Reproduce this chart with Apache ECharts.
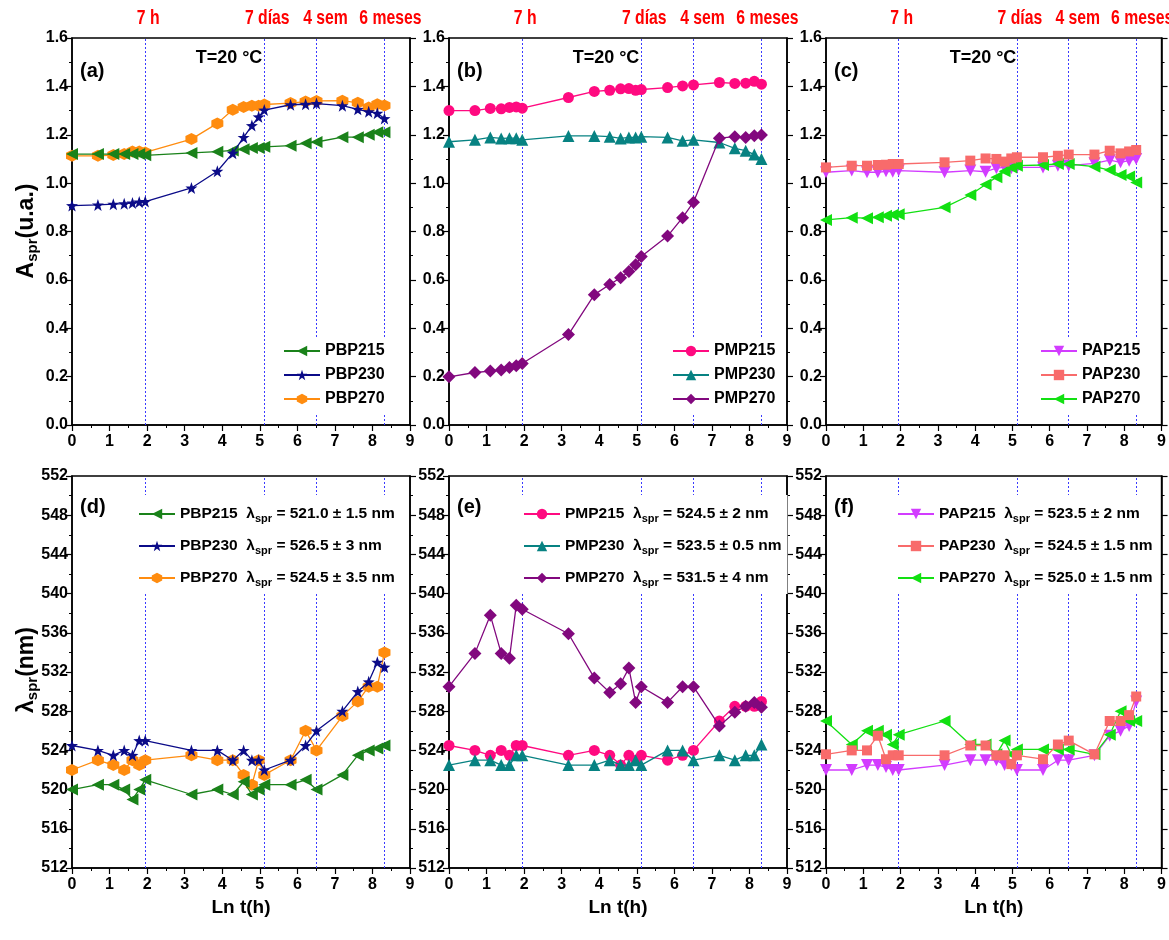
<!DOCTYPE html>
<html><head><meta charset="utf-8">
<script src="https://cdn.jsdelivr.net/npm/echarts@6/dist/echarts.min.js"></script>
<style>html,body{margin:0;padding:0;background:#fff}#c{width:1169px;height:940px}</style>
</head><body><div id="c"></div><script>
// ---- data ----
const LN_T = [0,0.69,1.10,1.39,1.61,1.79,1.95,3.18,3.87,4.28,4.57,4.79,4.97,5.12,5.82,6.22,6.51,7.20,7.61,7.90,8.13,8.32];
const MARK_X = [1.95,5.12,6.51,8.32];
const MARK_LABELS = ['7 h','7 días','4 sem','6 meses'];
const X_TICKS = [0,1,2,3,4,5,6,7,8,9];

// absorbance A_spr (u.a.)
const A_PBP215 = [1.12,1.12,1.12,1.12,1.12,1.12,1.115,1.125,1.13,1.135,1.14,1.145,1.145,1.15,1.155,1.165,1.17,1.19,1.19,1.20,1.21,1.21];
const A_PBP230 = [0.907,0.91,0.913,0.915,0.918,0.922,0.924,0.98,1.049,1.124,1.189,1.238,1.274,1.302,1.324,1.326,1.329,1.32,1.305,1.295,1.289,1.267];
const A_PBP270 = [1.113,1.113,1.116,1.12,1.131,1.131,1.127,1.182,1.247,1.303,1.315,1.32,1.32,1.325,1.331,1.337,1.34,1.341,1.332,1.313,1.326,1.321];
const A_PMP215 = [1.30,1.30,1.309,1.307,1.313,1.315,1.31,1.354,1.379,1.384,1.39,1.391,1.384,1.387,1.395,1.402,1.406,1.416,1.412,1.413,1.421,1.409];
const A_PMP230 = [1.171,1.179,1.189,1.185,1.186,1.186,1.179,1.195,1.195,1.192,1.185,1.189,1.189,1.192,1.189,1.175,1.179,1.168,1.144,1.134,1.118,1.10];
const A_PMP270 = [0.199,0.217,0.223,0.227,0.238,0.245,0.254,0.374,0.539,0.581,0.609,0.635,0.663,0.697,0.781,0.857,0.921,1.186,1.192,1.189,1.196,1.199];
const A_PAP215 = [1.045,1.052,1.045,1.045,1.049,1.047,1.052,1.045,1.052,1.047,1.062,1.065,1.061,1.065,1.065,1.072,1.072,1.082,1.095,1.086,1.093,1.10];
const A_PAP230 = [1.065,1.072,1.072,1.075,1.076,1.079,1.079,1.086,1.093,1.102,1.10,1.089,1.102,1.107,1.107,1.113,1.118,1.118,1.134,1.123,1.131,1.137];
const A_PAP270 = [0.848,0.857,0.855,0.859,0.865,0.869,0.871,0.90,0.951,0.994,1.024,1.049,1.065,1.072,1.075,1.079,1.079,1.068,1.054,1.034,1.027,1.003];

// wavelength lambda_spr (nm)
const L_PBP215 = [520.0,520.5,520.5,520.0,519.0,520.0,521.0,519.5,520.0,519.5,520.8,519.5,520.0,520.5,520.5,521.0,520.0,521.5,523.5,524.0,524.2,524.5];
const L_PBP230 = [524.5,524.0,523.5,524.0,523.5,525.0,525.0,524.0,524.0,523.0,524.0,523.0,523.0,522.0,523.0,524.5,526.0,528.0,530.0,531.0,533.0,532.5];
const L_PBP270 = [522.0,523.0,522.5,522.0,523.0,522.5,523.0,523.5,523.0,523.0,521.5,520.5,523.0,521.5,523.0,526.0,524.0,527.5,529.0,530.5,530.5,534.0];
const L_PMP215 = [524.5,524.0,523.5,524.0,523.5,524.5,524.5,523.5,524.0,523.5,522.5,523.5,523.0,523.5,523.0,523.5,524.0,527.0,528.5,528.5,528.5,529.0];
const L_PMP230 = [522.5,523.0,523.0,522.5,522.5,523.5,523.5,522.5,522.5,523.0,522.5,522.5,523.0,522.5,524.0,524.0,523.0,523.5,523.0,523.5,523.5,524.6];
const L_PMP270 = [530.5,533.9,537.8,533.9,533.4,538.8,538.4,535.9,531.4,529.9,530.8,532.4,528.9,530.5,528.9,530.5,530.5,526.5,527.9,528.5,528.9,528.4];
const L_PAP215 = [522.0,522.0,522.5,522.5,522.3,522.0,522.0,522.5,523.0,523.0,523.0,522.5,522.5,522.0,522.0,523.0,523.0,523.5,525.5,526.0,526.5,529.0];
const L_PAP230 = [523.6,524.0,524.0,525.5,523.1,523.5,523.5,523.5,524.5,524.5,523.5,523.5,522.6,523.5,523.1,524.6,525.0,523.6,527.0,527.0,527.6,529.5];
const L_PAP270 = [527.0,524.6,526.0,526.0,525.6,524.6,525.6,527.0,524.6,524.6,523.6,525.0,523.6,524.1,524.1,524.1,524.1,523.6,525.6,528.0,527.0,527.0];

const LAMBDA_TXT = {
  PBP215:'521.0 ± 1.5', PBP230:'526.5 ± 3', PBP270:'524.5 ± 3.5',
  PMP215:'524.5 ± 2', PMP230:'523.5 ± 0.5', PMP270:'531.5 ± 4',
  PAP215:'523.5 ± 2', PAP230:'524.5 ± 1.5', PAP270:'525.0 ± 1.5'
};
const PANEL_TAGS = ['(a)','(b)','(c)','(d)','(e)','(f)'];

// ---- style ----
const SANS = '"Liberation Sans",Arial,sans-serif';
const STAR = 'path://M0,-10 L2.35,-3.24 L9.51,-3.09 L3.8,1.24 L5.88,8.09 L0,4 L-5.88,8.09 L-3.8,1.24 L-9.51,-3.09 L-2.35,-3.24 Z';
const HEX = 'path://M0,-10 L8.66,-5 L8.66,5 L0,10 L-8.66,5 L-8.66,-5 Z';
const LTRI = 'path://M-10,0 L8,-9 L8,9 Z';
const DTRI = 'path://M-9,-8 L9,-8 L0,8 Z';
const STYLE = {
  PBP215:{c:'#1a821a', s:LTRI, z:12}, PBP230:{c:'#0b0b88', s:STAR, z:13}, PBP270:{c:'#ff8c0f', s:HEX, z:11},
  PMP215:{c:'#ff0a80', s:'circle', z:11}, PMP230:{c:'#078282', s:'triangle', z:12}, PMP270:{c:'#82087e', s:'diamond', z:13},
  PAP215:{c:'#d23cff', s:DTRI, z:11}, PAP230:{c:'#f86b6b', s:'rect', z:12}, PAP270:{c:'#12e012', s:LTRI, z:11}
};
const SIZE = {circle:11, triangle:12, diamond:13, rect:10};

const GL = [72,449,826], GW = [338,338,337];
const GT = [38,476], GH = [387,392];
const TOP_LEG_DX = [205,217,208];
const BOT_LEG_DX = [60,68,65];
const RED_DX = [3,3,9,6];

const panels = [
  {names:['PBP215','PBP230','PBP270'], vals:[A_PBP215,A_PBP230,A_PBP270]},
  {names:['PMP215','PMP230','PMP270'], vals:[A_PMP215,A_PMP230,A_PMP270]},
  {names:['PAP215','PAP230','PAP270'], vals:[A_PAP215,A_PAP230,A_PAP270]},
  {names:['PBP215','PBP230','PBP270'], vals:[L_PBP215,L_PBP230,L_PBP270]},
  {names:['PMP215','PMP230','PMP270'], vals:[L_PMP215,L_PMP230,L_PMP270]},
  {names:['PAP215','PAP230','PAP270'], vals:[L_PAP215,L_PAP230,L_PAP270]}
];

const grid=[], xAxis=[], yAxis=[], series=[], legend=[], graphic=[];
const axLabel = {color:'#000', fontFamily:SANS, fontWeight:'bold', fontSize:16};

panels.forEach((p,i)=>{
  const row = i<3?0:1, col = i%3;
  grid.push({left:GL[col], top:GT[row], width:GW[col], height:GH[row], show:true, borderColor:'#000', borderWidth:1.5, backgroundColor:'transparent'});
  xAxis.push({gridIndex:i, type:'value', min:0, max:9, interval:1,
    axisLine:{show:true, onZero:false, lineStyle:{color:'#000', width:1.5}},
    axisTick:{show:true, length:6, lineStyle:{color:'#000', width:1.2}},
    minorTick:{show:true, splitNumber:2, length:3, lineStyle:{color:'#000'}},
    splitLine:{show:false}, axisLabel:Object.assign({margin:9}, axLabel),
    name: row===1 ? 'Ln t(h)' : '', nameLocation:'middle', nameGap:30,
    nameTextStyle:{color:'#000', fontFamily:SANS, fontWeight:'bold', fontSize:19}
  });
  const yb = row===0 ? {min:0, max:1.6, interval:0.2, fmt:v=>v.toFixed(1)} : {min:512, max:552, interval:4, fmt:v=>String(v)};
  yAxis.push({gridIndex:i, type:'value', min:yb.min, max:yb.max, interval:yb.interval, position:'left',
    axisLine:{show:true, onZero:false, lineStyle:{color:'#000', width:1.5}},
    axisTick:{show:true, length:6, lineStyle:{color:'#000', width:1.2}},
    minorTick:{show:true, splitNumber:2, length:3, lineStyle:{color:'#000'}},
    splitLine:{show:false}, axisLabel:Object.assign({margin:4, formatter:yb.fmt}, axLabel)});
  yAxis.push({gridIndex:i, type:'value', min:yb.min, max:yb.max, interval:yb.interval, position:'right',
    axisLine:{show:true, onZero:false, lineStyle:{color:'#000', width:1.5}},
    axisTick:{show:true, length:6, lineStyle:{color:'#000', width:1.2}},
    minorTick:{show:true, splitNumber:2, length:3, lineStyle:{color:'#000'}},
    splitLine:{show:false}, axisLabel:{show:false}});
  p.names.forEach((n,k)=>{
    const st = STYLE[n];
    const s = {
      name:n, type:'line', xAxisIndex:i, yAxisIndex:2*i, z:st.z,
      data: LN_T.map((x,j)=>[x, p.vals[k][j]]),
      symbol:st.s, symbolSize: SIZE[st.s] || 12, showAllSymbol:true,
      itemStyle:{color:st.c}, lineStyle:{color:st.c, width:1.3},
      animation:false
    };
    if (k===0) {
      s.markLine = {
        silent:true, symbol:['none','none'], animation:false, z:1,
        lineStyle:{color:'#3a3aff', type:[2,2], width:1},
        label:{show:false},
        data: MARK_X.map(x=>({xAxis:x}))
      };
    }
    series.push(s);
  });
  if (row===0) {
    legend.push({orient:'vertical', left:GL[col]+TOP_LEG_DX[col], top:337,
      data:p.names, itemWidth:36, itemHeight:13, itemGap:8, padding:[6,6,6,6],
      backgroundColor:'#fff', selectedMode:false,
      textStyle:{color:'#000', fontFamily:SANS, fontWeight:'bold', fontSize:16}});
  } else {
    legend.push({orient:'vertical', left:GL[col]+BOT_LEG_DX[col], top:495,
      data:p.names, itemWidth:36, itemHeight:13, itemGap:9, padding:[6,6,6,6],
      backgroundColor:'#fff', selectedMode:false,
      formatter: n => '{a|' + n + '  λ}{s|spr}{a| = ' + LAMBDA_TXT[n] + ' nm}',
      textStyle:{color:'#000', fontFamily:SANS, fontWeight:'bold', fontSize:15,
        rich:{a:{fontFamily:SANS, fontWeight:'bold', fontSize:15.5, color:'#000', lineHeight:20, verticalAlign:'middle'},
              s:{fontFamily:SANS, fontWeight:'bold', fontSize:11, color:'#000', lineHeight:20, verticalAlign:'bottom', padding:[12,0,0,0]}}}});
  }
  graphic.push({type:'text', x:GL[col]+8, y:GT[row]+(row===0?33:31),
    style:{text:PANEL_TAGS[i], fill:'#000', font:'bold 20px '+SANS, verticalAlign:'middle'}});
  if (row===0) {
    graphic.push({type:'text', x:GL[col]+157, y:GT[row]+20,
      style:{text:'T=20 °C', fill:'#000', font:'bold 18px '+SANS, align:'center', verticalAlign:'middle'}});
  }
});

graphic.push({type:'text', x:27, y:231, rotation:Math.PI/2,
  style:{text:'{a|A}{s|spr}{a|(u.a.)}', align:'center', verticalAlign:'middle',
    rich:{a:{fontFamily:SANS, fontWeight:'bold', fontSize:23, fill:'#000', lineHeight:26, verticalAlign:'middle'},
          s:{fontFamily:SANS, fontWeight:'bold', fontSize:15, fill:'#000', lineHeight:26, verticalAlign:'bottom', padding:[13,0,0,0]}}}});
graphic.push({type:'text', x:27, y:670, rotation:Math.PI/2,
  style:{text:'{a|λ}{s|spr}{a|(nm)}', align:'center', verticalAlign:'middle',
    rich:{a:{fontFamily:SANS, fontWeight:'bold', fontSize:23, fill:'#000', lineHeight:26, verticalAlign:'middle'},
          s:{fontFamily:SANS, fontWeight:'bold', fontSize:15, fill:'#000', lineHeight:26, verticalAlign:'bottom', padding:[13,0,0,0]}}}});

const chart = echarts.init(document.getElementById('c'), null, {renderer:'canvas'});
chart.setOption({backgroundColor:'#fff', animation:false, grid, xAxis, yAxis, series, legend, graphic});

// red time markers above the top panels, positioned through the axis scale
for (let i=0;i<3;i++){
  MARK_X.forEach((x,m)=>{
    const pt = chart.convertToPixel({xAxisIndex:i, yAxisIndex:2*i}, [x, 1.6]);
    graphic.push({type:'text', x:pt[0]+RED_DX[m], y:pt[1]-20, scaleX:0.75,
      style:{text:MARK_LABELS[m], fill:'#ff0000', font:'bold 21px '+SANS, align:'center', verticalAlign:'middle'}});
  });
}
chart.setOption({graphic});
</script></body></html>
